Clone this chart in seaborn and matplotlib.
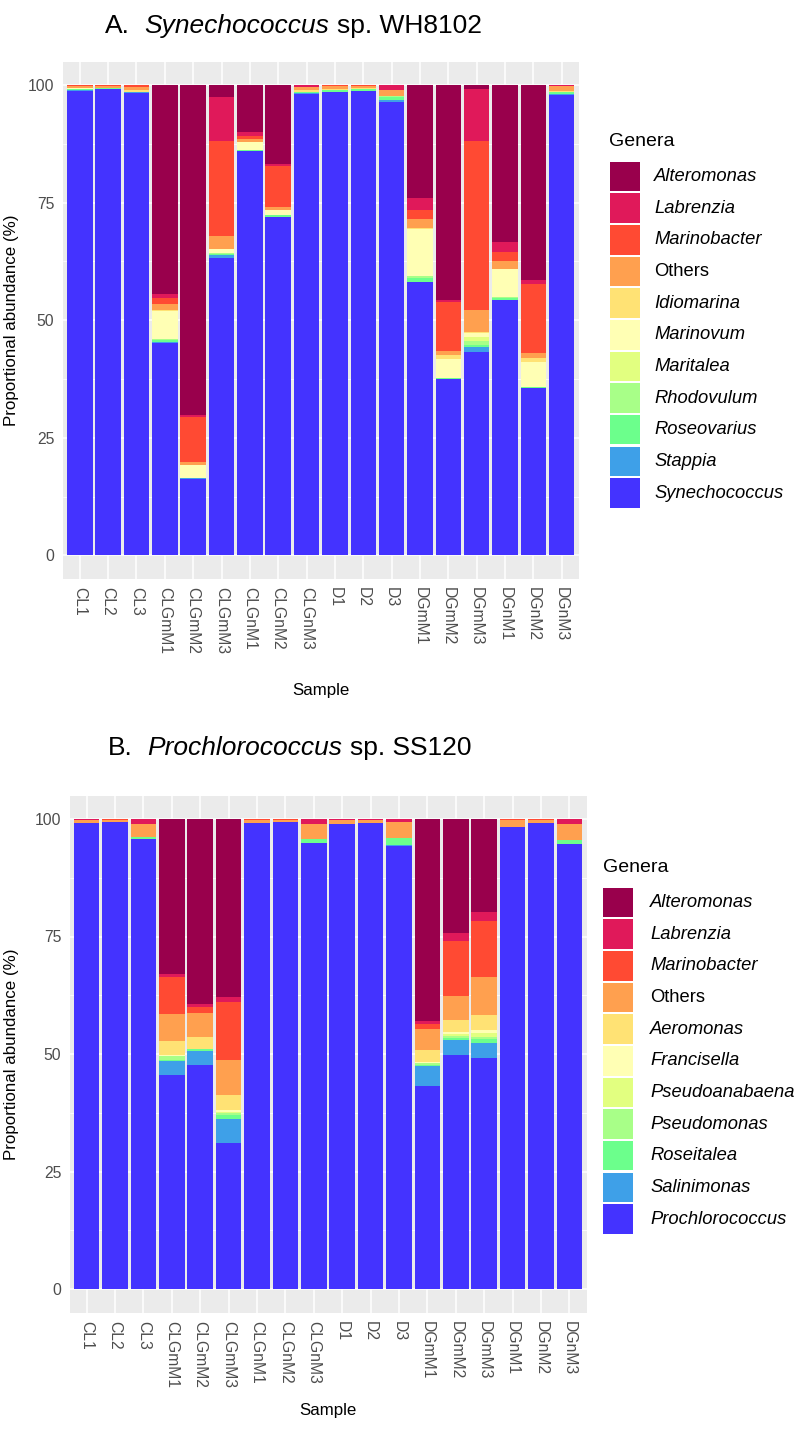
import numpy as np
import pandas as pd
import matplotlib
matplotlib.use("Agg")
import matplotlib.pyplot as plt
from matplotlib.patches import Rectangle
from matplotlib import font_manager
import seaborn as sns

# ---------------- data ----------------
samples = ["CL1", "CL2", "CL3", "CLGmM1", "CLGmM2", "CLGmM3", "CLGnM1", "CLGnM2", "CLGnM3",
           "D1", "D2", "D3", "DGmM1", "DGmM2", "DGmM3", "DGnM1", "DGnM2", "DGnM3"]

# Panel A: Synechococcus sp. WH8102 (legend order = top of stack first)
genera_a = ["Alteromonas", "Labrenzia", "Marinobacter", "Others", "Idiomarina", "Marinovum",
            "Maritalea", "Rhodovulum", "Roseovarius", "Stappia", "Synechococcus"]
a_alteromonas   = [0, 0, 0, 44.4, 70.1, 2.5, 10.0, 16.7, 0, 0, 0, 0, 24.1, 45.65, 0.85, 33.4, 41.55, 0]
a_labrenzia     = [0.1, 0, 0, 0.95, 0.4, 9.5, 0.9, 0.5, 0.4, 0, 0, 1.0, 2.5, 0.4, 11.05, 2.0, 0.7, 0.2]
a_marinobacter  = [0.2, 0.2, 0.4, 1.25, 9.6, 20.0, 0.6, 8.7, 0.1, 0.3, 0.2, 0, 1.8, 10.45, 35.9, 2.1, 14.65, 0]
a_others        = [0.4, 0.4, 0.7, 1.2, 0.7, 2.8, 0.6, 0.7, 0.6, 0.5, 0.5, 1.3, 2.0, 0.9, 4.75, 1.6, 1.1, 1.0]
a_idiomarina    = [0, 0, 0.3, 0.2, 0, 0, 0, 0, 0.3, 0.3, 0.2, 0, 0.3, 0.8, 0.1, 0.1, 0.9, 0.3]
a_marinovum     = [0.2, 0, 0, 6.0, 2.7, 0.8, 1.7, 1.0, 0, 0, 0, 0, 9.9, 4.15, 1.0, 5.8, 5.3, 0]
a_maritalea     = [0, 0, 0, 0, 0, 0, 0, 0, 0, 0, 0, 0, 0, 0, 0.8, 0, 0, 0]
a_rhodovulum    = [0, 0, 0, 0.2, 0, 0.3, 0, 0, 0, 0, 0, 0.3, 0.5, 0, 0.8, 0.3, 0, 0]
a_roseovarius   = [0.2, 0.2, 0.1, 0.4, 0, 0.3, 0.3, 0.4, 0.3, 0.3, 0.3, 0.5, 0.7, 0.2, 0.4, 0.4, 0.3, 0.5]
a_stappia       = [0.1, 0, 0.2, 0.2, 0.2, 0.5, 0, 0, 0.3, 0, 0, 0.5, 0, 0, 1.1, 0, 0, 0.2]
a_synechococcus = [98.8, 99.2, 98.3, 45.2, 16.3, 63.3, 85.9, 72.0, 98.0, 98.6, 98.8, 96.4, 58.2, 37.45, 43.25, 54.3, 35.5, 97.8]

# Panel B: Prochlorococcus sp. SS120
genera_b = ["Alteromonas", "Labrenzia", "Marinobacter", "Others", "Aeromonas", "Francisella",
            "Pseudoanabaena", "Pseudomonas", "Roseitalea", "Salinimonas", "Prochlorococcus"]
b_alteromonas     = [0, 0, 0, 32.95, 39.35, 37.8, 0, 0, 0, 0, 0, 0, 42.9, 24.35, 19.8, 0, 0, 0]
b_labrenzia       = [0.15, 0, 1.05, 0.7, 0.7, 1.05, 0.1, 0, 1.0, 0.2, 0.2, 0.6, 0.7, 1.65, 2.0, 0, 0, 1.0]
b_marinobacter    = [0.15, 0.2, 0, 7.8, 1.3, 12.4, 0.2, 0.15, 0, 0.1, 0.1, 0, 1.0, 11.7, 11.85, 0.2, 0.2, 0]
b_others          = [0.5, 0.4, 2.85, 5.8, 4.95, 7.45, 0.6, 0.5, 3.2, 0.75, 0.6, 3.4, 4.45, 5.1, 8.15, 1.4, 0.7, 3.4]
b_aeromonas       = [0, 0, 0, 3.05, 2.7, 3.2, 0, 0, 0, 0, 0, 0, 2.7, 2.6, 3.0, 0, 0, 0]
b_francisella     = [0, 0, 0, 0.2, 0, 0.4, 0, 0, 0, 0, 0, 0, 0.1, 0.4, 0.7, 0, 0, 0]
b_pseudoanabaena  = [0, 0, 0, 0, 0, 0.2, 0, 0, 0, 0, 0, 0, 0, 0.3, 0.8, 0, 0, 0]
b_pseudomonas     = [0, 0, 0, 0.7, 0, 0.5, 0, 0, 0, 0, 0, 0, 0.55, 0.5, 0.5, 0, 0, 0]
b_roseitalea      = [0, 0, 0.4, 0.2, 0.3, 0.85, 0, 0, 0.8, 0, 0, 1.6, 0.1, 0.4, 0.8, 0, 0, 0.9]
b_salinimonas     = [0, 0, 0, 3.1, 3.05, 5.05, 0, 0, 0, 0, 0, 0.1, 4.25, 3.2, 3.3, 0, 0, 0]
b_prochlorococcus = [99.2, 99.4, 95.7, 45.5, 47.65, 31.1, 99.1, 99.35, 95.0, 98.95, 99.1, 94.3, 43.25, 49.8, 49.1, 98.4, 99.1, 94.7]

colors = ["#99004C", "#E0195A", "#FF4A33", "#FFA04F", "#FFE274", "#FFFFB4",
          "#E2FF80", "#A8FF88", "#6CFF8C", "#3EA0E8", "#4433FF"]

data_a = pd.DataFrame(dict(zip(genera_a, [a_alteromonas, a_labrenzia, a_marinobacter, a_others,
                                          a_idiomarina, a_marinovum, a_maritalea, a_rhodovulum,
                                          a_roseovarius, a_stappia, a_synechococcus])), index=samples)
data_b = pd.DataFrame(dict(zip(genera_b, [b_alteromonas, b_labrenzia, b_marinobacter, b_others,
                                          b_aeromonas, b_francisella, b_pseudoanabaena, b_pseudomonas,
                                          b_roseitalea, b_salinimonas, b_prochlorococcus])), index=samples)

# ---------------- style ----------------
sns.set_theme(style="white")
plt.rcParams["font.family"] = ["Liberation Sans", "DejaVu Sans"]

names = {f.name for f in font_manager.fontManager.ttflist}
if "Liberation Sans Narrow" in names:
    title_family, title_size, space_em = ["Liberation Sans Narrow", "Liberation Sans"], 23.0, 0.228
else:
    title_family, title_size, space_em = ["Liberation Sans", "DejaVu Sans"], 19.0, 0.278

W, H = 794, 1435
fig = plt.figure(figsize=(W / 100, H / 100), dpi=100)
fig.patch.set_facecolor("white")


def fx(px):
    return px / W


def fy(py):
    return 1 - py / H


def draw_panel(ax, genera, data):
    bottom = np.zeros(len(samples))
    for g, c in zip(genera[::-1], colors[::-1]):
        vals = data[g].to_numpy(dtype=float)
        sns.barplot(x=samples, y=vals, bottom=bottom, color=c, saturation=1, width=0.9,
                    errorbar=None, linewidth=0, ax=ax)
        bottom = bottom + vals
    ax.set_xlim(-0.6, len(samples) - 0.4)
    ax.set_ylim(-5, 105)
    ax.set_facecolor("#EBEBEB")
    ax.set_axisbelow(True)
    ax.set_yticks([0, 25, 50, 75, 100])
    ax.set_yticks([12.5, 37.5, 62.5, 87.5], minor=True)
    ax.set_xticks(range(len(samples)))
    ax.set_xticklabels(samples, rotation=270, ha="center", va="top")
    ax.grid(True, which="major", color="white", linewidth=1.1)
    ax.yaxis.grid(True, which="minor", color="white", linewidth=0.55)
    ax.tick_params(axis="both", which="major", length=3.5, width=1.0, color="#333333",
                   labelcolor="#4D4D4D", labelsize=11.3, pad=2.5)
    ax.tick_params(axis="y", which="minor", length=0)
    for s in ax.spines.values():
        s.set_visible(False)
    ax.set_xlabel("")
    ax.set_ylabel("")


def draw_legend(genera, title_x, title_y, key_x, key_top, label_x):
    fig.text(fx(title_x), fy(title_y), "Genera", fontsize=14, color="black", ha="left", va="center")
    pitch, ks = 31.66, 29.5
    for i, (g, c) in enumerate(zip(genera, colors)):
        top = key_top + i * pitch
        fig.patches.append(Rectangle((fx(key_x), fy(top + ks)), ks / W, ks / H,
                                     transform=fig.transFigure, facecolor=c, edgecolor="none"))
        fig.text(fx(label_x), fy(top + ks / 2), g, fontsize=13.2, color="black", ha="left",
                 va="center", fontstyle=("normal" if g == "Others" else "italic"))


def rich_title(x_px, base_px, parts):
    fig.canvas.draw()
    r = fig.canvas.get_renderer()
    x = x_px
    sp = title_size * 100 / 72 * space_em
    for txt, style, nsp in parts:
        t = fig.text(fx(x), fy(base_px), txt, fontsize=title_size, fontstyle=style,
                     family=title_family, ha="left", va="baseline", color="black")
        bb = t.get_window_extent(r)
        x = bb.x1 + nsp * sp


# Panel A
axA = fig.add_axes([fx(62.8), fy(579), 515.9 / W, 517.5 / H])
draw_panel(axA, genera_a, data_a)
# Panel B
axB = fig.add_axes([fx(69.5), fy(1312.5), 517 / W, 517 / H])
draw_panel(axB, genera_b, data_b)

# axis titles
fig.text(fx(12), fy(320), "Proportional abundance (%)", rotation=90, fontsize=12.2,
         ha="center", va="center", color="black")
fig.text(fx(12), fy(1054), "Proportional abundance (%)", rotation=90, fontsize=12.2,
         ha="center", va="center", color="black")
fig.text(fx(320.7), fy(690), "Sample", fontsize=12.2, ha="center", va="center", color="black")
fig.text(fx(328), fy(1410), "Sample", fontsize=12.2, ha="center", va="center", color="black")

# legends
draw_legend(genera_a, 609, 142, 610, 161.7, 654)
draw_legend(genera_b, 603, 868, 603, 887.7, 650)

# titles
rich_title(105, 33, [("A.", "normal", 2), ("Synechococcus", "italic", 1), ("sp. WH8102", "normal", 0)])
rich_title(108, 755, [("B.", "normal", 2), ("Prochlorococcus", "italic", 1), ("sp. SS120", "normal", 0)])

fig.savefig("out.png", dpi=100, facecolor="white")
